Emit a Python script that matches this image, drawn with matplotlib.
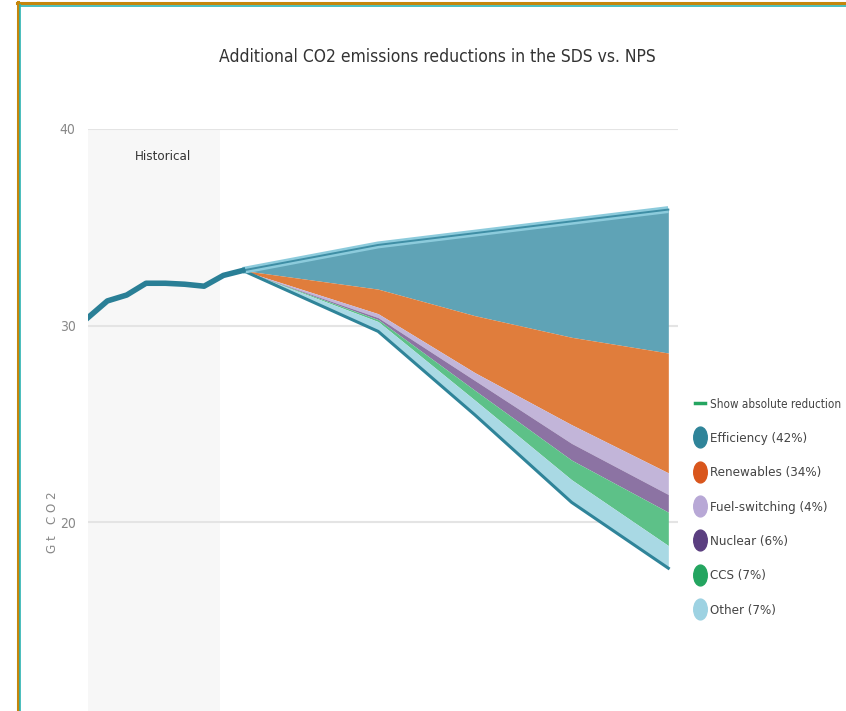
import matplotlib
matplotlib.use('Agg')
from matplotlib import pyplot as plt
from matplotlib.lines import Line2D
from matplotlib.path import Path
from matplotlib.transforms import Affine2D
import numpy as np

plt.rcParams['font.family'] = ['DejaVu Sans']
plt.rcParams['font.stretch'] = 'condensed'

# historical emissions (Gt CO2)
hist_years = [2010, 2011, 2012, 2013, 2014, 2015, 2016, 2017, 2018]
hist_vals = [30.4, 31.25, 31.55, 32.15, 32.15, 32.1, 32.0, 32.55, 32.8]

# projections
proj_years = [2018, 2025, 2030, 2035, 2040]
nps = [32.8, 34.1, 34.7, 35.3, 35.9]

# reductions SDS vs NPS by measure (Gt CO2)
categories = ['Efficiency (42%)', 'Renewables (34%)', 'Fuel-switching (4%)',
              'Nuclear (6%)', 'CCS (7%)', 'Other (7%)']
efficiency = [0, 2.25, 4.2, 5.9, 7.3]
renewables = [0, 1.25, 2.9, 4.45, 6.1]
fuel_switching = [0, 0.2, 0.4, 0.95, 1.1]
nuclear = [0, 0.1, 0.5, 0.85, 0.9]
ccs = [0, 0.1, 0.5, 1.0, 1.7]
other = [0, 0.5, 0.75, 1.15, 1.15]

fill_colors = ['#5fa3b6', '#e07d3c', '#c2b5d9', '#8c73a3', '#5dc188', '#a9d9e4']
dot_colors = ['#2f8499', '#d9561c', '#b8a8d6', '#5b3f80', '#24a560', '#9dd2e2']

fig = plt.figure(figsize=(8.46, 7.11), dpi=100)
ax = fig.add_axes([88 / 846, (711 - 718.5) / 711, 590 / 846, (718.5 - 129) / 711])

ax.set_xlim(2010, 2040.5)
ax.set_ylim(10, 40)
ax.axvspan(2010, 2016.8, color='#f7f7f7', zorder=0, lw=0)
for v in [10, 20, 30, 40]:
    ax.axhline(v, color='#e4e4e4', lw=1.5, zorder=1)

upper = np.array(nps, dtype=float)
for vals, col in zip([efficiency, renewables, fuel_switching, nuclear, ccs, other], fill_colors):
    lower = upper - np.array(vals)
    ax.fill_between(proj_years, lower, upper, color=col, lw=0, zorder=2)
    upper = lower

ax.plot(proj_years, upper, color='#2f8499', lw=2.2, zorder=4)
ax.plot(proj_years, nps, color='#8ccbdc', lw=5, zorder=4, solid_capstyle='butt')
ax.plot(proj_years, nps, color='#3f8ea5', lw=1.4, zorder=5)
ax.plot(hist_years, hist_vals, color='#2a7f96', lw=4, zorder=5, solid_joinstyle='round')

ax.text(2012.4, 38.4, 'Historical', fontsize=9.5, color='#333333', zorder=6)

for s in ax.spines.values():
    s.set_visible(False)
ax.set_xticks([])
ax.set_yticks([10, 20, 30, 40])
ax.tick_params(axis='y', length=0, labelsize=10, labelcolor='#888888', pad=9)

fig.text(52 / 846, 1 - 522 / 711, 'G t   C O 2', rotation=90, fontsize=9.5,
         color='#888888', ha='center', va='center')
fig.text(437 / 846, 1 - 57 / 711, 'Additional CO2 emissions reductions in the SDS vs. NPS',
         fontsize=12.5, color='#333333', ha='center', va='center')

ellipse = Path.unit_circle().transformed(Affine2D().scale(0.65, 1.0))
handles = [Line2D([], [], color='#24a560', lw=2.5)]
for c in dot_colors:
    handles.append(Line2D([], [], ls='none', marker=ellipse, markersize=15,
                          markerfacecolor=c, markeredgecolor=c))
leg = fig.legend(handles, ['Show absolute reduction'] + categories,
                 loc='upper left', bbox_to_anchor=(688 / 846, 1 - 391 / 711),
                 frameon=False, fontsize=9.5, labelcolor='#444444', labelspacing=1.62,
                 handlelength=0.8, handletextpad=0.35, borderpad=0)
leg.get_texts()[0].set_fontsize(8.4)

# screenshot frame
fig.add_artist(Line2D([17 / 846, 1], [1 - 3 / 711, 1 - 3 / 711], color='#c4860c', lw=2.2))
fig.add_artist(Line2D([19 / 846, 1], [1 - 5.5 / 711, 1 - 5.5 / 711], color='#2bb3b3', lw=1.2))
fig.add_artist(Line2D([17.5 / 846, 17.5 / 846], [0, 1 - 2 / 711], color='#c4860c', lw=2.2))
fig.add_artist(Line2D([20 / 846, 20 / 846], [0, 1 - 5 / 711], color='#2bb3b3', lw=1.2))

fig.savefig('out.png', dpi=100)
